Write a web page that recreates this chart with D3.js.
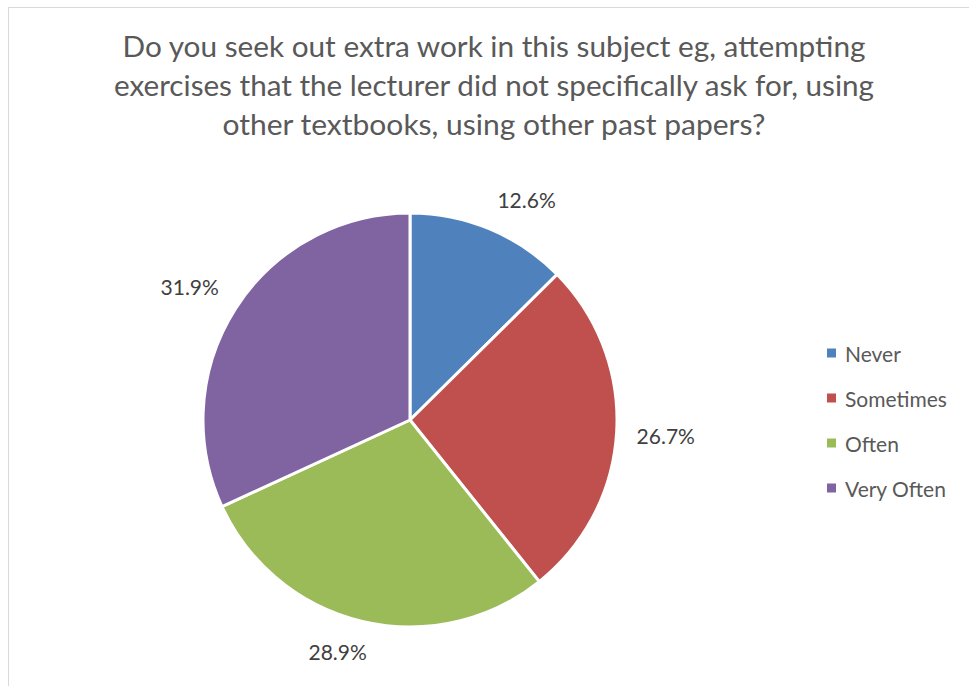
<!DOCTYPE html>
<html>
<head>
<meta charset="utf-8">
<script src="https://cdn.jsdelivr.net/npm/d3@7"></script>
<style>
  html, body { margin: 0; padding: 0; background: #ffffff; }
  svg { display: block; }
</style>
</head>
<body>
<svg id="chart" width="969" height="686"></svg>
<script>
const titleLines = [
  "Do you seek out extra work in this subject eg, attempting",
  "exercises that the lecturer did not specifically ask for, using",
  "other textbooks, using other past papers?"
];
const categories = ["Never", "Sometimes", "Often", "Very Often"];
const values = [12.6, 26.7, 28.9, 31.9];
const colors = ["#4F81BD", "#C0504D", "#9BBB59", "#8064A2"];

const FONT = "Lato, 'Open Sans', 'DejaVu Sans', sans-serif";
const svg = d3.select("#chart");

// chart border
svg.append("rect")
  .attr("x", 8.5).attr("y", 7.5)
  .attr("width", 1000).attr("height", 700)
  .attr("fill", "#ffffff")
  .attr("stroke", "#d9d9d9").attr("stroke-width", 1);

// title
const titleWidths = [743, 760, 543];
svg.append("g").selectAll("text").data(titleLines).join("text")
  .attr("x", 494)
  .attr("y", (d, i) => 57 + i * 39)
  .attr("text-anchor", "middle")
  .attr("font-family", FONT)
  .attr("font-size", 28)
  .attr("fill", "#595959")
  .attr("textLength", (d, i) => titleWidths[i])
  .attr("lengthAdjust", "spacingAndGlyphs")
  .text(d => d);

// pie
const cx = 410, cy = 420, R = 207;
const data = categories.map((c, i) => ({ cat: c, value: values[i], color: colors[i] }));
const pie = d3.pie().sort(null).value(d => d.value);
const arcs = pie(data);
const arc = d3.arc().innerRadius(0).outerRadius(R);

const g = svg.append("g").attr("transform", `translate(${cx},${cy})`);
g.selectAll("path").data(arcs).join("path")
  .attr("d", arc)
  .attr("fill", d => d.data.color)
  .attr("stroke", "#ffffff")
  .attr("stroke-width", 3)
  .attr("stroke-linejoin", "round");

// labels (outside end)
const labelR = R + 20;
const clamp = v => Math.max(-1, Math.min(1, v));
g.selectAll("text.lbl").data(arcs).join("text")
  .attr("class", "lbl")
  .attr("font-family", FONT)
  .attr("font-size", 21)
  .attr("fill", "#404040")
  .attr("text-anchor", "middle")
  .attr("dominant-baseline", "central")
  .text(d => d3.format(".1f")(d.data.value) + "%")
  .each(function(d) {
    const a = (d.startAngle + d.endAngle) / 2;
    const w = this.getComputedTextLength();
    const h = 22;
    const ax = Math.sin(a) * labelR, ay = -Math.cos(a) * labelR;
    const x = ax + clamp(Math.sin(a) * 3) * w / 2;
    const y = ay - clamp(Math.cos(a) * 3) * h / 2;
    d3.select(this).attr("x", x).attr("y", y);
  });

// legend
const leg = svg.append("g").attr("transform", "translate(827,353)");
const rows = leg.selectAll("g").data(data).join("g")
  .attr("transform", (d, i) => `translate(0,${i * 45})`);
rows.append("rect")
  .attr("x", 0).attr("y", -4.5)
  .attr("width", 9).attr("height", 9)
  .attr("fill", d => d.color);
rows.append("text")
  .attr("x", 18).attr("y", 0)
  .attr("dominant-baseline", "central")
  .attr("font-family", FONT)
  .attr("font-size", 21)
  .attr("fill", "#595959")
  .text(d => d.cat);
</script>
</body>
</html>
